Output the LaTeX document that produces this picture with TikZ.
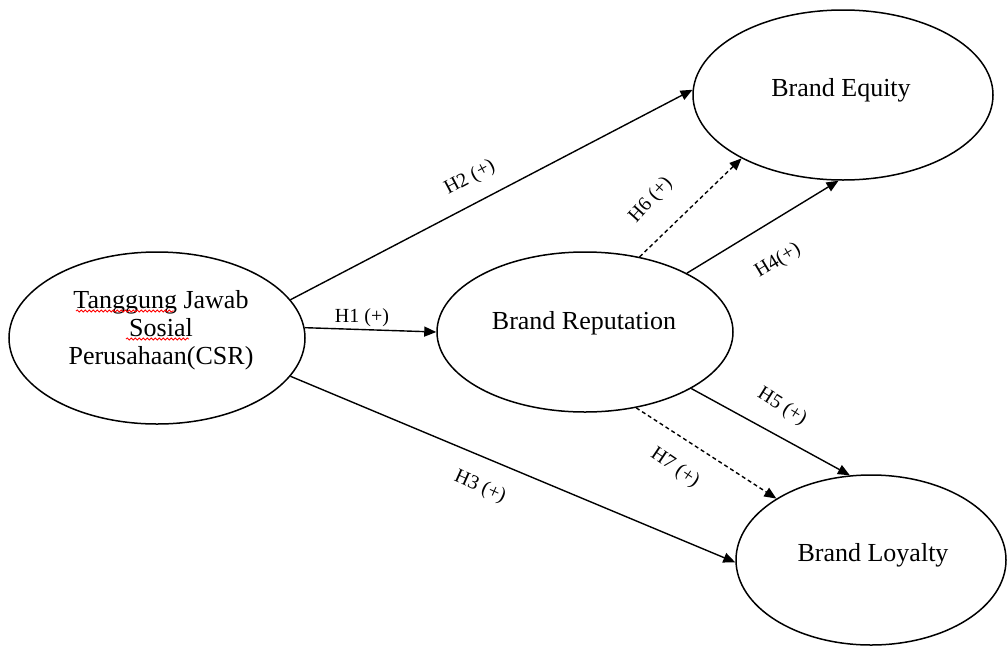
\documentclass[tikz,border=0pt]{standalone}
\usepackage{fontspec}
\setmainfont{Liberation Serif}
\usetikzlibrary{arrows.meta,shapes.geometric,decorations.pathmorphing}
\begin{document}
\begin{tikzpicture}[x=1pt,y=-1pt,
  construct/.style={draw, ellipse, line width=1.5pt, inner sep=0pt},
  ctext/.style={font=\fontsize{26}{28}\selectfont, align=center, inner sep=0pt},
  link/.style={line width=1.4pt, -{Triangle[length=12pt,width=10pt]}},
  dlink/.style={link, dash pattern=on 4pt off 3pt},
  lbl/.style={font=\fontsize{20}{22}\selectfont, inner sep=0pt},
  spell/.style={red, line width=0.8pt, decorate, decoration={snake, amplitude=1.1pt, segment length=4pt}}]
\useasboundingbox (0,0) rectangle (1007,646);
% ellipses
\node[construct, minimum width=296pt, minimum height=172pt] (csr) at (157,338) {};
\node[construct, minimum width=296pt, minimum height=160pt] (rep) at (585,332) {};
\node[construct, minimum width=300pt, minimum height=170pt] (eq) at (843,95) {};
\node[construct, minimum width=270pt, minimum height=170pt] (loy) at (871,560) {};
% texts
\node[ctext] (csrt) at (161,330) {Tanggung Jawab\\Sosial\\Perusahaan(CSR)};
\node[ctext] (rept) at (584,323) {Brand Reputation};
\node[ctext] (eqt) at (841,90) {Brand Equity};
\node[ctext] (loyt) at (873,555) {Brand Loyalty};
% spell-check underlines
\draw[spell] (76,311) -- (174,311);
\draw[spell] (126,339) -- (189,339);
% connectors
\draw[link] (csr.4) -- (rep.180);
\draw[link] (csr.16) -- (eq.178);
\draw[link] (csr.-16) -- (loy.181);
\draw[dlink] (rep.54) -- (eq.212);
\draw[link] (rep.30) -- (eq.267);
\draw[link] (rep.-28) -- (loy.104);
\draw[dlink] (rep.-56) -- (loy.147);
% labels
\node[lbl] (l1) at (362,318) {H1 (+)};
\node[lbl, rotate=28] (l2) at (470,178) {H2 (+)};
\node[lbl, rotate=-24] (l3) at (480,487) {H3 (+)};
\node[lbl, rotate=31] (l4) at (778,261) {H4(+)};
\node[lbl, rotate=-32] (l5) at (782,407) {H5 (+)};
\node[lbl, rotate=48] (l6) at (651,200) {H6 (+)};
\node[lbl, rotate=-34] (l7) at (675,468) {H7 (+)};
\end{tikzpicture}
\end{document}
